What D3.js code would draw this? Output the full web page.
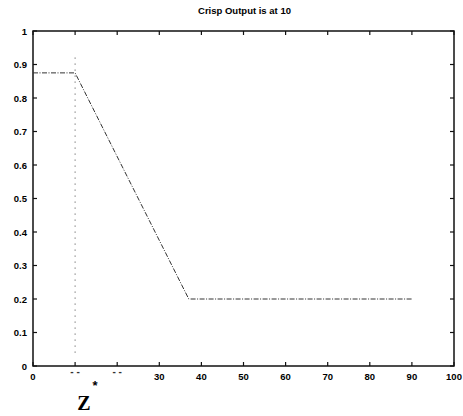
<!DOCTYPE html>
<html>
<head>
<meta charset="utf-8">
<script src="https://cdn.jsdelivr.net/npm/d3@7"></script>
<style>
  html, body { margin: 0; padding: 0; background: #fff; }
  svg text { font-family: "Liberation Sans", Arial, sans-serif; }
</style>
</head>
<body>
<svg id="chart" width="463" height="416"></svg>
<script>
// Aggregated output membership function (clipped fuzzy sets)
const outX = [0, 10, 37, 90];
const outMu = [0.875, 0.875, 0.2, 0.2];
// Crisp output marker
const crispValue = 10;
const crispSpan = [0.04, 0.93];

const xTicks = [0, 10, 20, 30, 40, 50, 60, 70, 80, 90, 100];
const xTickLabels = ["0", "", "", "30", "40", "50", "60", "70", "80", "90", "100"];
const xFaintTicks = [10, 20];
const yTicks = [0, 0.1, 0.2, 0.3, 0.4, 0.5, 0.6, 0.7, 0.8, 0.9, 1];
const yTickLabels = ["0", "0.1", "0.2", "0.3", "0.4", "0.5", "0.6", "0.7", "0.8", "0.9", "1"];

const svg = d3.select("#chart");
const mLeft = 33, mRight = 454, mTop = 31, mBottom = 366;

const x = d3.scaleLinear().domain([0, 100]).range([mLeft, mRight]);
const y = d3.scaleLinear().domain([0, 1]).range([mBottom, mTop]);

// Title
svg.append("text")
  .attr("x", (mLeft + mRight) / 2 + 1).attr("y", 14)
  .attr("text-anchor", "middle")
  .attr("font-size", 9.5).attr("font-weight", "bold")
  .text("Crisp Output is at 10");

// Frame
svg.append("rect")
  .attr("x", mLeft).attr("y", mTop)
  .attr("width", mRight - mLeft).attr("height", mBottom - mTop)
  .attr("fill", "none").attr("stroke", "#111").attr("stroke-width", 1.5);

// Inward ticks on all four sides
const tl = 4;
const g = svg.append("g").attr("stroke", "#111").attr("stroke-width", 1.2);
xTicks.forEach(t => {
  g.append("line").attr("x1", x(t)).attr("x2", x(t)).attr("y1", mBottom).attr("y2", mBottom - tl);
  g.append("line").attr("x1", x(t)).attr("x2", x(t)).attr("y1", mTop).attr("y2", mTop + tl);
});
yTicks.forEach(t => {
  g.append("line").attr("x1", mLeft).attr("x2", mLeft + tl).attr("y1", y(t)).attr("y2", y(t));
  g.append("line").attr("x1", mRight).attr("x2", mRight - tl).attr("y1", y(t)).attr("y2", y(t));
});

// Tick labels
svg.append("g").selectAll("text").data(xTicks).join("text")
  .attr("x", d => x(d)).attr("y", mBottom + 14)
  .attr("text-anchor", "middle")
  .attr("font-size", 9.5).attr("font-weight", "bold")
  .text((d, i) => xTickLabels[i]);
// Faded labels at 10 and 20 only leave small dashes
svg.append("g").selectAll("text").data(xFaintTicks).join("text")
  .attr("x", d => x(d)).attr("y", mBottom + 9)
  .attr("text-anchor", "middle")
  .attr("font-size", 10).attr("font-weight", "bold").attr("fill", "#333")
  .text("- -");
svg.append("g").selectAll("text").data(yTicks).join("text")
  .attr("x", mLeft - 6).attr("y", d => y(d) + 3.5)
  .attr("text-anchor", "end")
  .attr("font-size", 9.5).attr("font-weight", "bold")
  .text((d, i) => yTickLabels[i]);

// Aggregated membership curve
const line = d3.line().x(d => x(d)).y((d, i) => y(outMu[i]));
svg.append("path")
  .attr("d", line(outX))
  .attr("fill", "none").attr("stroke", "#333")
  .attr("stroke-width", 1)
  .attr("stroke-dasharray", "5,1.5,1,1.5");

// Crisp output vertical marker
svg.append("line")
  .attr("x1", x(crispValue)).attr("x2", x(crispValue))
  .attr("y1", y(crispSpan[0])).attr("y2", y(crispSpan[1]))
  .attr("stroke", "#444").attr("stroke-width", 1)
  .attr("stroke-dasharray", "1,5");

// Z* label
svg.append("text")
  .attr("x", 84).attr("y", 410)
  .attr("text-anchor", "middle")
  .style("font-family", "'Liberation Serif', serif")
  .attr("font-size", 20).attr("font-weight", "bold")
  .text("Z");
svg.append("text")
  .attr("x", 95).attr("y", 390)
  .attr("text-anchor", "middle")
  .attr("font-size", 13).attr("font-weight", "bold")
  .text("*");
</script>
</body>
</html>
